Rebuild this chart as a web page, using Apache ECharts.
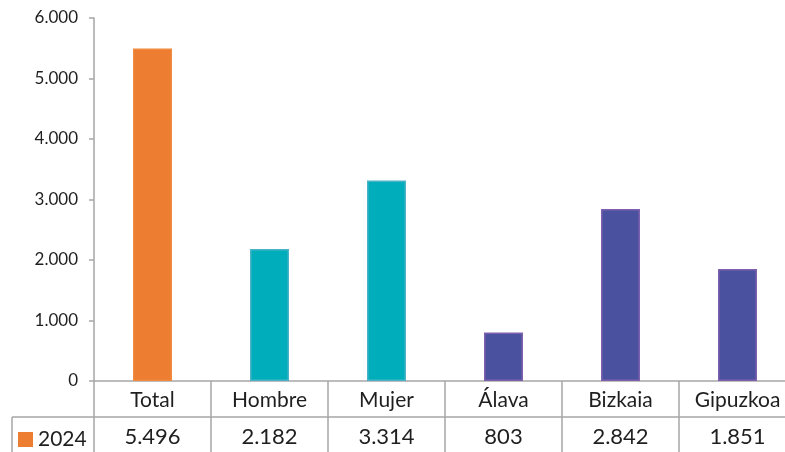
<!DOCTYPE html>
<html>
<head>
<meta charset="utf-8">
<script src="https://cdn.jsdelivr.net/npm/echarts@6/dist/echarts.min.js"></script>
<style>
  html, body { margin: 0; padding: 0; background: #fff; }
  #chart { width: 785px; height: 452px; }
</style>
</head>
<body>
<div id="chart"></div>
<script>
var categories = ["Total", "Hombre", "Mujer", "Álava", "Bizkaia", "Gipuzkoa"]
var values2024 = [5496, 2182, 3314, 803, 2842, 1851]
var yTicks = [0, 1000, 2000, 3000, 4000, 5000, 6000]

// colores por grupo: total, sexo, territorio
var fills = ["#ED7D31", "#00ADBA", "#00ADBA", "#4A529F", "#4A529F", "#4A529F"]
var borders = ["#F08A40", "#4BB3C8", "#4BB3C8", "#7E60AE", "#7E60AE", "#7E60AE"]

var gridColor = "#A6A6A6"
var textColor = "#1F1F1F"
var font = "Lato, 'Open Sans', sans-serif"

// 5496 -> "5.496"
function fmt(n) {
	return String(n).replace(/\B(?=(\d{3})+(?!\d))/g, ".")
}

var chart = echarts.init(document.getElementById("chart"))

var option = {
	animation: false,
	textStyle: { fontFamily: font },
	// la tabla se sale por la derecha como en el original
	grid: { left: 94, width: 702, top: 18, bottom: 71, outerBoundsMode: "none", containLabel: false },
	legend: {
		data: ["2024"],
		left: 18,
		top: 429,
		icon: "rect",
		itemWidth: 15,
		itemHeight: 15,
		itemGap: 7,
		padding: 0,
		textStyle: { fontSize: 21, color: textColor, fontFamily: font }
	},
	xAxis: {
		type: "category",
		data: categories,
		boundaryGap: true,
		axisLine: { show: true, lineStyle: { color: gridColor, width: 1.5 } },
		axisTick: {
			show: true,
			interval: 0,
			length: 71,
			lineStyle: { color: gridColor, width: 1.5 }
		},
		axisLabel: {
			interval: 0,
			margin: 1,
			formatter: function(name, i) {
				return "{h|" + name + "}\n{v|" + fmt(values2024[i]) + "}"
			},
			rich: {
				h: { fontSize: 21, lineHeight: 36, color: textColor, fontFamily: font },
				v: { fontSize: 22, lineHeight: 38, color: textColor, fontFamily: font }
			}
		}
	},
	yAxis: {
		type: "value",
		min: yTicks[0],
		max: yTicks[yTicks.length - 1],
		interval: 1000,
		splitLine: { show: false },
		axisLine: { show: true, lineStyle: { color: gridColor, width: 1.5 } },
		axisTick: { show: true, length: 5, lineStyle: { color: gridColor, width: 1.5 } },
		axisLabel: {
			margin: 16,
			fontSize: 17,
			color: textColor,
			fontFamily: font,
			formatter: function(v) { return fmt(v) }
		}
	},
	series: [
		{
			name: "2024",
			type: "bar",
			barWidth: 39,
			itemStyle: { color: "#ED7D31" },
			data: values2024.map(function(v, i) {
				return {
					value: v,
					itemStyle: { color: fills[i], borderColor: borders[i], borderWidth: 1.5 }
				}
			})
		}
	],
	graphic: [
		// linea horizontal entre cabecera y valores
		{
			type: "line",
			shape: { x1: 12, y1: 417, x2: 785, y2: 417 },
			style: { stroke: gridColor, lineWidth: 1.5 },
			silent: true
		},
		// borde izquierdo de la celda de leyenda
		{
			type: "line",
			shape: { x1: 12, y1: 417, x2: 12, y2: 452 },
			style: { stroke: gridColor, lineWidth: 1.5 },
			silent: true
		}
	]
}

chart.setOption(option)
</script>
</body>
</html>
